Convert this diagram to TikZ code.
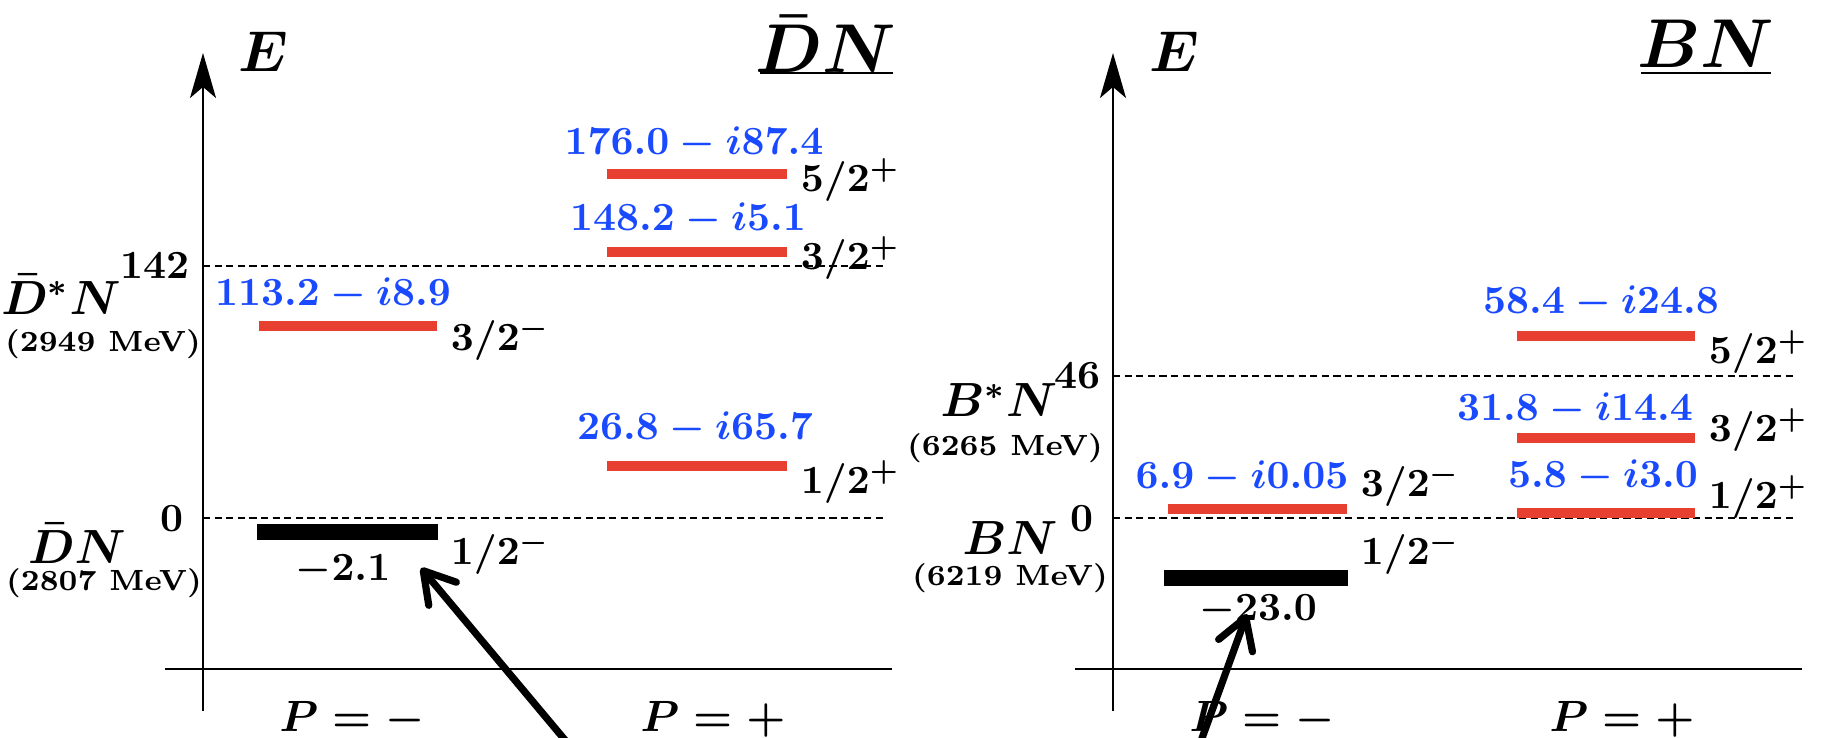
\documentclass[tikz,border=0pt]{standalone}
\usetikzlibrary{arrows.meta}
\definecolor{lvlred}{RGB}{232,64,48}
\definecolor{valblue}{RGB}{26,74,255}
\tikzset{
  axisline/.style={line width=0.45pt},
  thrline/.style={line width=0.35pt, dash pattern=on 1.8pt off 1.1pt},
  redbar/.style={draw=lvlred, line width=2.5pt},
  blackbar/.style={draw=black, line width=3.8pt},
  val/.style={font=\boldmath\fontsize{9.8}{12}\selectfont, text=valblue, inner sep=0pt},
  jp/.style={font=\boldmath\fontsize{10}{12}\selectfont, inner sep=0pt, anchor=west},
  num/.style={font=\boldmath\fontsize{10}{12}\selectfont, inner sep=0pt},
  chan/.style={font=\boldmath\fontsize{12}{14}\selectfont, inner sep=0pt},
  mev/.style={font=\bfseries\fontsize{7.3}{9}\selectfont, inner sep=0pt},
  thrval/.style={font=\boldmath\fontsize{10}{12}\selectfont, inner sep=0pt, anchor=east},
  elab/.style={font=\boldmath\fontsize{15}{18}\selectfont, inner sep=0pt},
  ttl/.style={font=\boldmath\fontsize{16}{19}\selectfont, inner sep=0pt},
  plab/.style={font=\boldmath\fontsize{10.5}{12}\selectfont, inner sep=0pt},
  bigarrow/.style={line width=1.8pt, -{Straight Barb[length=7.5pt, width=9pt, round]}}
}
\begin{document}
\begin{tikzpicture}[x=0.25pt, y=-0.25pt]
\clip (0,0) rectangle (1822,738);
\useasboundingbox (0,0) rectangle (1822,738);

% ================= left panel: DbarN =================
\coordinate (LaxB) at (203,711);
\coordinate (LaxT) at (203,53);
\draw[axisline, -{Stealth[length=11.25pt, width=6.5pt, inset=2.75pt]}] (LaxB) -- (LaxT);
\coordinate (LhA) at (165,669);
\coordinate (LhB) at (892,669);
\draw[axisline] (LhA) -- (LhB);
\coordinate (Lt1a) at (203,266); \coordinate (Lt1b) at (885,266);
\coordinate (Lt0a) at (203,518); \coordinate (Lt0b) at (885,518);
\draw[thrline] (Lt1a) -- (Lt1b);
\draw[thrline] (Lt0a) -- (Lt0b);

\node[elab] (LE) at (263,52) {$E$};
\node[ttl] (Ltitle) at (826,44) {$\bar{D}N$};
\coordinate (LulA) at (760,73); \coordinate (LulB) at (893,73);
\draw[line width=0.5pt] (LulA) -- (LulB);

\node[thrval] (L142) at (190,266) {$142$};
\node[thrval] (L0) at (184,519) {$0$};
\node[chan] (LDsN) at (61,294) {$\bar{D}^{*}N$};
\node[mev] (LDsNm) at (103,344) {(2949 MeV)};
\node[chan] (LDN) at (77,543) {$\bar{D}N$};
\node[mev] (LDNm) at (104,583) {(2807 MeV)};

% P = - levels
\coordinate (La1) at (259,326); \coordinate (La2) at (437,326);
\draw[redbar] (La1) -- (La2);
\node[val] (Lv1) at (333,294) {$113.2-i8.9$};
\node[jp] (Lj1) at (450,339) {$3/2^{-}$};
\coordinate (Lb1) at (257,532); \coordinate (Lb2) at (438,532);
\draw[blackbar] (Lb1) -- (Lb2);
\node[num] (Lbv) at (343,570) {$-2.1$};
\node[jp] (Lbj) at (450,553) {$1/2^{-}$};

% P = + levels
\coordinate (Lc1) at (607,174); \coordinate (Lc2) at (787,174);
\draw[redbar] (Lc1) -- (Lc2);
\node[val] (Lv2) at (694,143) {$176.0-i87.4$};
\node[jp] (Lj2) at (800,180) {$5/2^{+}$};
\coordinate (Ld1) at (607,252); \coordinate (Ld2) at (787,252);
\draw[redbar] (Ld1) -- (Ld2);
\node[val] (Lv3) at (688,219) {$148.2-i5.1$};
\node[jp] (Lj3) at (800,258) {$3/2^{+}$};
\coordinate (Le1) at (607,466); \coordinate (Le2) at (787,466);
\draw[redbar] (Le1) -- (Le2);
\node[val] (Lv4) at (695,428) {$26.8-i65.7$};
\node[jp] (Lj4) at (800,482) {$1/2^{+}$};

\node[plab] (LPm) at (352,719) {$P=-$};
\node[plab] (LPp) at (713,719) {$P=+$};

\coordinate (LarrT) at (575,752);
\coordinate (LarrH) at (421,568);
\draw[bigarrow] (LarrT) -- (LarrH);

% ================= right panel: BN =================
\coordinate (RaxB) at (1113,711);
\coordinate (RaxT) at (1113,53);
\draw[axisline, -{Stealth[length=11.25pt, width=6.5pt, inset=2.75pt]}] (RaxB) -- (RaxT);
\coordinate (RhA) at (1075,669);
\coordinate (RhB) at (1802,669);
\draw[axisline] (RhA) -- (RhB);
\coordinate (Rt1a) at (1113,376); \coordinate (Rt1b) at (1795,376);
\coordinate (Rt0a) at (1113,518); \coordinate (Rt0b) at (1795,518);
\draw[thrline] (Rt1a) -- (Rt1b);
\draw[thrline] (Rt0a) -- (Rt0b);

\node[elab] (RE) at (1174,52) {$E$};
\node[ttl] (Rtitle) at (1706,44) {$BN$};
\coordinate (RulA) at (1641,73); \coordinate (RulB) at (1771,73);
\draw[line width=0.5pt] (RulA) -- (RulB);

\node[thrval] (R46) at (1101,376) {$46$};
\node[thrval] (R0) at (1094,519) {$0$};
\node[chan] (RBsN) at (999,400) {$B^{*}N$};
\node[mev] (RBsNm) at (1005,448) {(6265 MeV)};
\node[chan] (RBN) at (1010,538) {$BN$};
\node[mev] (RBNm) at (1010,578) {(6219 MeV)};

% P = - levels
\coordinate (Ra1) at (1168,509); \coordinate (Ra2) at (1347,509);
\draw[redbar] (Ra1) -- (Ra2);
\node[val] (Rv1) at (1242,477) {$6.9-i0.05$};
\node[jp] (Rj1) at (1360,485) {$3/2^{-}$};
\coordinate (Rb1) at (1164,578); \coordinate (Rb2) at (1348,578);
\draw[blackbar] (Rb1) -- (Rb2);
\node[num] (Rbv) at (1258,610) {$-23.0$};
\node[jp] (Rbj) at (1360,553) {$1/2^{-}$};

% P = + levels
\coordinate (Rc1) at (1517,336); \coordinate (Rc2) at (1695,336);
\draw[redbar] (Rc1) -- (Rc2);
\node[val] (Rv2) at (1601,302) {$58.4-i24.8$};
\node[jp] (Rj2) at (1708,352) {$5/2^{+}$};
\coordinate (Rd1) at (1517,438); \coordinate (Rd2) at (1695,438);
\draw[redbar] (Rd1) -- (Rd2);
\node[val] (Rv3) at (1575,409) {$31.8-i14.4$};
\node[jp] (Rj3) at (1708,430) {$3/2^{+}$};
\coordinate (Re1) at (1517,513); \coordinate (Re2) at (1695,513);
\draw[redbar] (Re1) -- (Re2);
\node[val] (Rv4) at (1603,476) {$5.8-i3.0$};
\node[jp] (Rj4) at (1708,497) {$1/2^{+}$};

\node[plab] (RPm) at (1262,719) {$P=-$};
\node[plab] (RPp) at (1622,719) {$P=+$};

\coordinate (RarrT) at (1197,752);
\coordinate (RarrH) at (1247,614);
\draw[bigarrow] (RarrT) -- (RarrH);
\end{tikzpicture}
\end{document}
